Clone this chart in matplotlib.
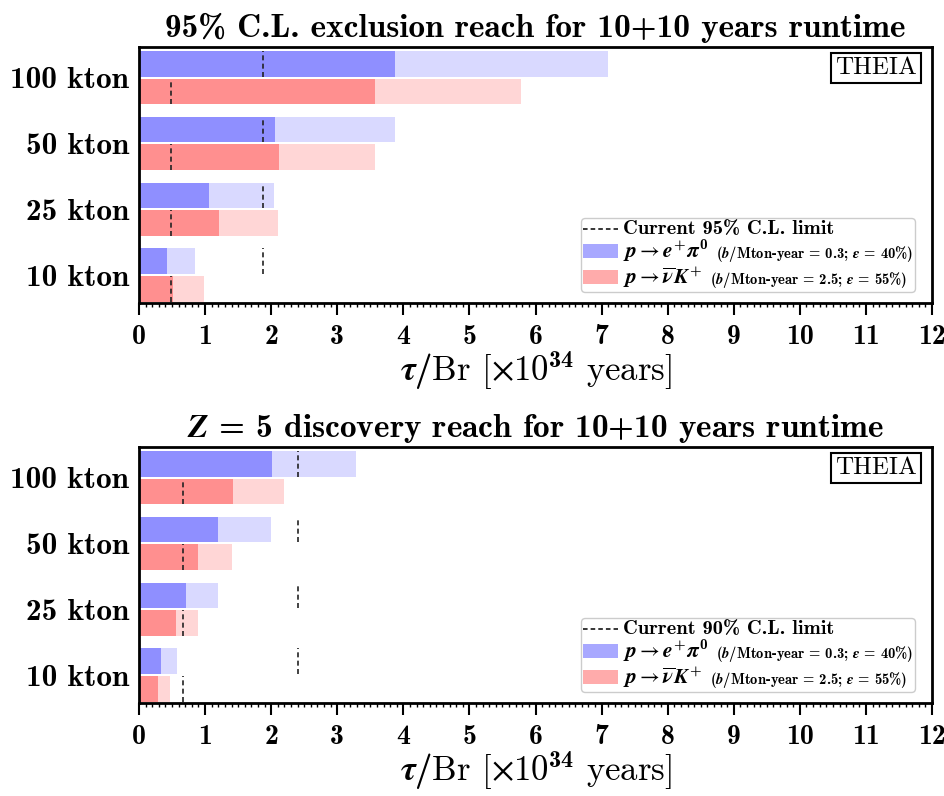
import numpy as np
import matplotlib
matplotlib.use('Agg')
import matplotlib.pyplot as plt
from matplotlib.patches import Rectangle
from matplotlib.lines import Line2D
from matplotlib.offsetbox import AnchoredOffsetbox, DrawingArea, HPacker, VPacker, TextArea
from matplotlib.ticker import MultipleLocator

# Computer Modern bold for text, bold italic for math letters
plt.rcParams['font.family'] = 'cmb10'
plt.rcParams['mathtext.fontset'] = 'custom'
plt.rcParams['mathtext.rm'] = 'cmb10'
plt.rcParams['mathtext.bf'] = 'cmb10'
plt.rcParams['mathtext.it'] = 'STIXGeneral:italic:bold'
plt.rcParams['mathtext.fallback'] = 'stix'
plt.rcParams['axes.unicode_minus'] = False

detectors = ['100 kton', '50 kton', '25 kton', '10 kton']

# 95% C.L. exclusion reach [x10^34 years]: 10 years and 10+10 years
excl_epi_10 = [3.87, 2.06, 1.06, 0.42]
excl_epi_20 = [7.09, 3.87, 2.04, 0.85]
excl_nuk_10 = [3.57, 2.12, 1.21, 0.52]
excl_nuk_20 = [5.78, 3.57, 2.11, 0.99]
excl_limits = [1.88, 0.49]   # current limits (e+pi0, nu K+)

# Z = 5 discovery reach
disc_epi_10 = [2.01, 1.20, 0.71, 0.33]
disc_epi_20 = [3.29, 2.00, 1.20, 0.58]
disc_nuk_10 = [1.42, 0.89, 0.56, 0.29]
disc_nuk_20 = [2.19, 1.41, 0.89, 0.47]
disc_limits = [2.40, 0.66]

blue_dark = '#8f8fff'
blue_light = '#d9d9ff'
red_dark = '#ff8f8f'
red_light = '#ffd6d6'
blue_leg = '#a8a8ff'
red_leg = '#ffabab'

label_epi = r'$p \rightarrow e^{+}\pi^{0}$'
label_nuk = r'$p \rightarrow \overline{\nu} K^{+}$'
small_epi = r'($b$/Mton-year = 0.3; $\epsilon$ = 40%)'
small_nuk = r'($b$/Mton-year = 2.5; $\epsilon$ = 55%)'


def make_legend(ax, limit_label):
    rows = []
    da = DrawingArea(25, 10, 0, 0)
    da.add_artist(Line2D([0, 25], [5, 5], color='k', ls=(0, (3, 2)), lw=1.1))
    rows.append(HPacker(children=[da, TextArea(limit_label, textprops=dict(fontsize=14.8))],
                        align='center', pad=0, sep=4))
    for col, big, small in [(blue_leg, label_epi, small_epi), (red_leg, label_nuk, small_nuk)]:
        da = DrawingArea(25, 10, 0, 0)
        da.add_artist(Rectangle((0, 0), 25, 10, fc=col, lw=0))
        txt = HPacker(children=[TextArea(big, textprops=dict(fontsize=15.5)),
                                TextArea(small, textprops=dict(fontsize=10.5))],
                      align='baseline', pad=0, sep=5)
        rows.append(HPacker(children=[da, txt], align='center', pad=0, sep=4))
    box = AnchoredOffsetbox(loc='lower right', child=VPacker(children=rows, align='left', pad=0, sep=0),
                            pad=0.15, borderpad=0, frameon=True,
                            bbox_to_anchor=(0.979, 0.043), bbox_transform=ax.transAxes)
    box.patch.set_boxstyle('round,pad=0,rounding_size=0.3')
    box.patch.set_edgecolor('#cccccc')
    box.patch.set_linewidth(1.0)
    ax.add_artist(box)


def draw_panel(ax, epi10, epi20, nuk10, nuk20, limits, title, limit_label):
    y = np.arange(len(detectors))[::-1]
    h = 0.39
    off = 0.21
    ax.barh(y + off, epi20, height=h, color=blue_light, lw=0)
    ax.barh(y + off, epi10, height=h, color=blue_dark, lw=0)
    ax.barh(y - off, nuk20, height=h, color=red_light, lw=0)
    ax.barh(y - off, nuk10, height=h, color=red_dark, lw=0)
    ax.vlines([limits[0]] * len(y), y + off - h / 2, y + off + h / 2,
              colors='#222222', linestyles=(0, (3, 2)), lw=1.2)
    ax.vlines([limits[1]] * len(y), y - off - h / 2, y - off + h / 2,
              colors='#222222', linestyles=(0, (3, 2)), lw=1.2)

    ax.set_xlim(0, 12)
    ax.set_ylim(-0.425, 3.465)
    ax.set_yticks(y)
    ax.set_yticklabels(detectors)
    ax.xaxis.set_major_locator(MultipleLocator(1))
    ax.xaxis.set_minor_locator(MultipleLocator(0.1))
    ax.tick_params(axis='x', which='major', direction='out', length=8.5, width=1.5, labelsize=20, pad=6.5)
    ax.tick_params(axis='x', which='minor', direction='out', length=3.2, width=1)
    ax.tick_params(axis='y', length=0, labelsize=22.5, pad=7)
    for s in ax.spines.values():
        s.set_linewidth(2)

    ax.set_title(title, fontsize=24, pad=7)
    ax.set_xlabel(r'$\tau/$Br [$\times$10$^{34}$ years]', fontsize=25, labelpad=0,
                  fontfamily='cmr10')
    ax.text(0.981, 0.962, 'THEIA', transform=ax.transAxes, ha='right', va='top', fontsize=18,
            fontfamily='cmr10',
            bbox=dict(boxstyle='square,pad=0.15', fc='white', ec='black', lw=1.5))
    make_legend(ax, limit_label)


fig = plt.figure(figsize=(9.45, 7.96), dpi=100)
ax1 = fig.add_axes([0.1471, 0.6193, 0.8392, 0.3216])
ax2 = fig.add_axes([0.1471, 0.1168, 0.8392, 0.3216])

draw_panel(ax1, excl_epi_10, excl_epi_20, excl_nuk_10, excl_nuk_20, excl_limits,
           '95% C.L. exclusion reach for 10+10 years runtime', 'Current 95% C.L. limit')
draw_panel(ax2, disc_epi_10, disc_epi_20, disc_nuk_10, disc_nuk_20, disc_limits,
           r'$Z$ = 5 discovery reach for 10+10 years runtime', 'Current 90% C.L. limit')

fig.savefig('out.png', dpi=100)
